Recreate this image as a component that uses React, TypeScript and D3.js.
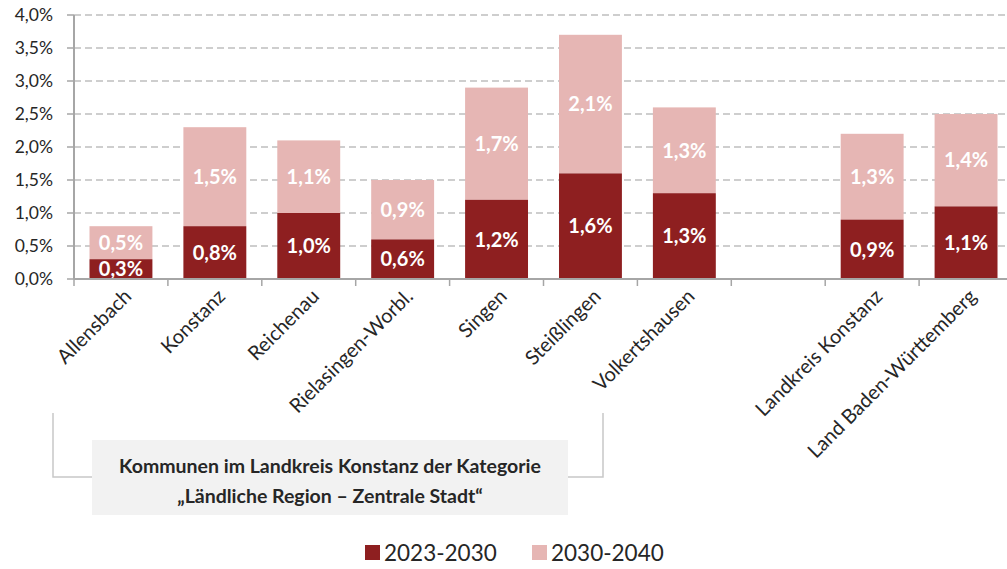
import React from "react";
import * as d3 from "d3";

const categories = [
  "Allensbach",
  "Konstanz",
  "Reichenau",
  "Rielasingen-Worbl.",
  "Singen",
  "Steißlingen",
  "Volkertshausen",
  "",
  "Landkreis Konstanz",
  "Land Baden-Württemberg",
];
const series1Name = "2023-2030";
const series2Name = "2030-2040";
const series1 = [0.3, 0.8, 1.0, 0.6, 1.2, 1.6, 1.3, null, 0.9, 1.1];
const series2 = [0.5, 1.5, 1.1, 0.9, 1.7, 2.1, 1.3, null, 1.3, 1.4];
const yTicks = [0, 0.5, 1, 1.5, 2, 2.5, 3, 3.5, 4];
const bracketTitle = [
  "Kommunen im Landkreis Konstanz der Kategorie",
  "„Ländliche Region – Zentrale Stadt“",
];

const W = 1007;
const H = 569;
const left = 74;
const slotW = 93.9;
const top = 15;
const bottom = 279;
const dark = "#8E1F20";
const light = "#E6B6B4";
const font = "Lato, 'Open Sans', sans-serif";

const fmt = (v: number) => v.toFixed(1).replace(".", ",") + "%";

export default function App() {
  const x = d3
    .scaleBand<number>()
    .domain(categories.map((_, i) => i))
    .range([left, left + slotW * categories.length])
    .paddingInner(0.33)
    .paddingOuter(0.165);
  const y = d3.scaleLinear().domain([0, 4]).range([bottom, top]);
  const bw = x.bandwidth();

  return (
    <svg
      width={W}
      height={H}
      style={{ position: "absolute", left: 0, top: 0, background: "#fff" }}
      fontFamily={font}
    >
      {yTicks.slice(1).map((t) => (
        <line
          key={"g" + t}
          x1={left}
          x2={W}
          y1={y(t)}
          y2={y(t)}
          stroke="#BFBFBF"
          strokeWidth={1.5}
          strokeDasharray="7,4"
        />
      ))}
      {yTicks.map((t) => (
        <g key={"y" + t}>
          <line x1={67} x2={left} y1={y(t)} y2={y(t)} stroke="#A6A6A6" strokeWidth={1.5} />
          <text
            x={53}
            y={y(t)}
            dy="0.36em"
            textAnchor="end"
            fontSize={17.5}
            fill="#262626"
          >
            {fmt(t)}
          </text>
        </g>
      ))}
      {categories.map((c, i) => {
        const a = series1[i];
        const b = series2[i];
        if (a == null || b == null) return null;
        const x0 = x(i)!;
        const cx = x0 + bw / 2;
        return (
          <g key={"b" + i}>
            <rect x={x0} width={bw} y={y(a + b)} height={y(a) - y(a + b)} fill={light} />
            <rect x={x0} width={bw} y={y(a)} height={y(0) - y(a)} fill={dark} />
            <text
              x={cx}
              y={(y(a) + y(0)) / 2}
              dy="0.36em"
              textAnchor="middle"
              fill="#fff"
              fontWeight="bold"
              fontSize={20}
            >
              {fmt(a)}
            </text>
            <text
              x={cx}
              y={(y(a + b) + y(a)) / 2}
              dy="0.36em"
              textAnchor="middle"
              fill="#fff"
              fontWeight="bold"
              fontSize={20}
            >
              {fmt(b)}
            </text>
          </g>
        );
      })}
      <line x1={left} x2={W} y1={y(0)} y2={y(0)} stroke="#A6A6A6" strokeWidth={2} />
      <line x1={left} x2={left} y1={top} y2={y(0)} stroke="#A6A6A6" strokeWidth={2} />
      {d3.range(categories.length + 1).map((k) => (
        <line
          key={"xt" + k}
          x1={left + k * slotW}
          x2={left + k * slotW}
          y1={y(0)}
          y2={y(0) + 7}
          stroke="#A6A6A6"
          strokeWidth={1.5}
        />
      ))}
      {categories.map((c, i) => {
        const cx = x(i)! + bw / 2;
        return (
          <text
            key={"xl" + i}
            transform={`translate(${cx + 1},${y(0) + 8}) rotate(-45)`}
            textAnchor="end"
            dy="0.75em"
            fontSize={20}
            fill="#262626"
          >
            {c}
          </text>
        );
      })}
      <polyline
        points="53,413 53,477 603,477 603,413"
        fill="none"
        stroke="#C8C8C8"
        strokeWidth={1.5}
      />
      <rect x={92} y={440} width={476} height={75} fill="#F2F2F2" />
      {bracketTitle.map((t, k) => (
        <text
          key={"bt" + k}
          x={330}
          y={466 + k * 30}
          dy="0.36em"
          textAnchor="middle"
          fontWeight="bold"
          fontSize={19.5}
          fill="#262626"
        >
          {t}
        </text>
      ))}
      <rect x={365} y={545} width={15} height={15} fill={dark} />
      <text x={384} y={553} dy="0.36em" fontSize={22.5} fill="#262626">
        {series1Name}
      </text>
      <rect x={532} y={545} width={15} height={15} fill={light} />
      <text x={551} y={553} dy="0.36em" fontSize={22.5} fill="#262626">
        {series2Name}
      </text>
    </svg>
  );
}
